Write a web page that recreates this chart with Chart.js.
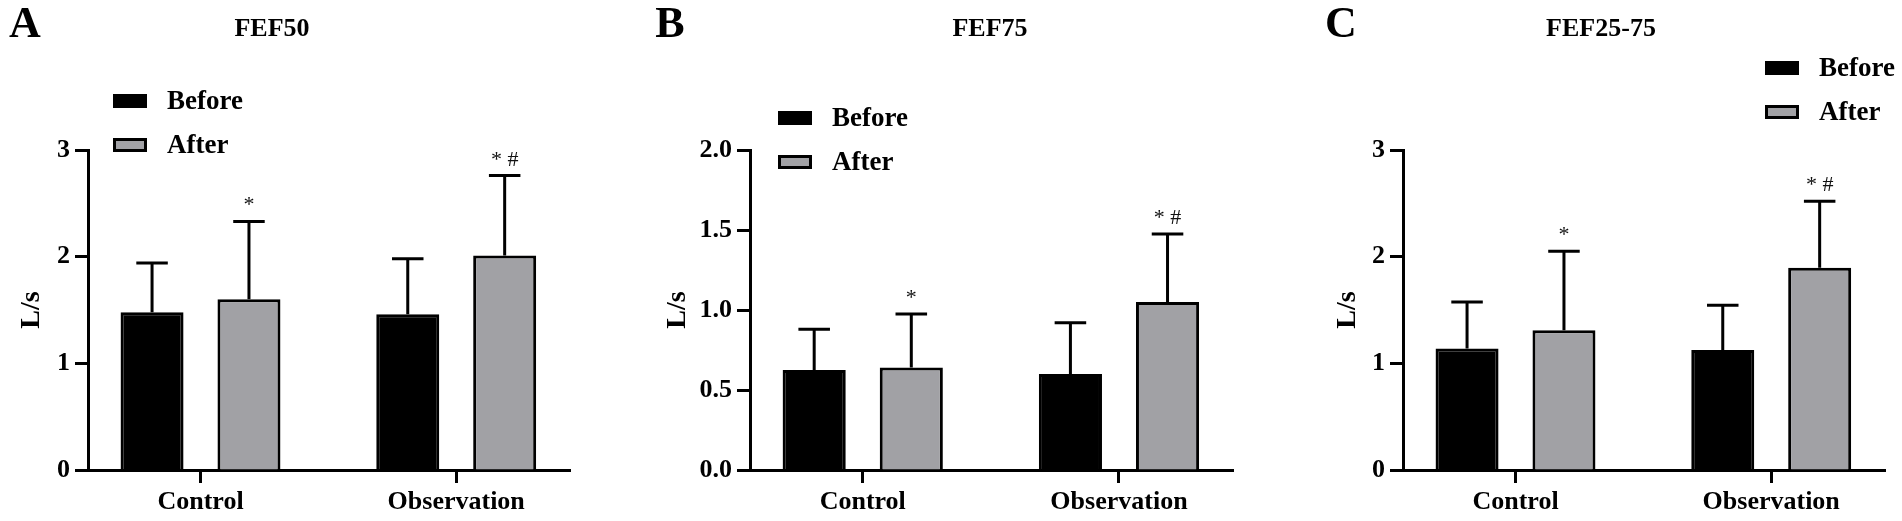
<!DOCTYPE html>
<html>
<head>
<meta charset="utf-8">
<title>FEF50 / FEF75 / FEF25-75</title>
<script src="https://cdn.jsdelivr.net/npm/chart.js@4.4.1/dist/chart.umd.min.js"></script>
<style>
  html, body { margin: 0; padding: 0; background: #fff; }
  #wrap { position: relative; width: 1902px; height: 521px; overflow: hidden; }
  canvas { position: absolute; top: 0; }
</style>
</head>
<body>
<div id="wrap">
  <canvas id="panelA" width="600" height="521" style="left:0px"></canvas>
  <canvas id="panelB" width="650" height="521" style="left:600px"></canvas>
  <canvas id="panelC" width="652" height="521" style="left:1250px"></canvas>
</div>
<script>
// groups on the x axis and the two series
const groups = ['Control', 'Observation'];
const seriesNames = ['Before', 'After'];
const afterMarks = ['*', '* #'];

// FEF50 (L/s), mean and SD
const fef50Before = [1.48, 1.46];
const fef50BeforeSd = [0.46, 0.52];
const fef50After = [1.60, 2.01];
const fef50AfterSd = [0.73, 0.75];
const fef50Ticks = [0, 1, 2, 3];

// FEF75 (L/s)
const fef75Before = [0.625, 0.60];
const fef75BeforeSd = [0.255, 0.32];
const fef75After = [0.64, 1.05];
const fef75AfterSd = [0.335, 0.425];
const fef75Ticks = [0, 0.5, 1.0, 1.5, 2.0];

// FEF25-75 (L/s)
const fef2575Before = [1.14, 1.125];
const fef2575BeforeSd = [0.435, 0.42];
const fef2575After = [1.31, 1.895];
const fef2575AfterSd = [0.74, 0.625];
const fef2575Ticks = [0, 1, 2, 3];

const SERIF = '"Liberation Serif", "Times New Roman", serif';
const GREY = '#a1a1a5';

// error bars (upper SD only) and significance marks
const errorBars = {
  id: 'errorBars',
  afterDatasetsDraw(chart) {
    const ctx = chart.ctx;
    const y = chart.scales.y;
    ctx.save();
    ctx.strokeStyle = '#000';
    ctx.lineWidth = 3;
    chart.data.datasets.forEach((ds, di) => {
      chart.getDatasetMeta(di).data.forEach((bar, i) => {
        const top = y.getPixelForValue(ds.data[i].y + ds.sd[i]);
        const half = bar.width / 4;
        ctx.beginPath();
        ctx.moveTo(bar.x, bar.y);
        ctx.lineTo(bar.x, top);
        ctx.moveTo(bar.x - half, top);
        ctx.lineTo(bar.x + half, top);
        ctx.stroke();
        if (ds.marks) {
          ctx.fillStyle = '#111';
          ctx.font = '22px ' + SERIF;
          ctx.textAlign = 'center';
          ctx.textBaseline = 'alphabetic';
          ctx.fillText(ds.marks[i], bar.x, top - 10);
        }
      });
    });
    ctx.restore();
  }
};

// panel letter, title and legend
const decor = {
  id: 'decor',
  afterDraw(chart, args, opts) {
    const ctx = chart.ctx;
    ctx.save();
    ctx.fillStyle = '#000';
    ctx.textBaseline = 'middle';
    ctx.textAlign = 'center';
    ctx.font = 'bold 44px ' + SERIF;
    ctx.fillText(opts.letter, opts.letterX, 26);
    ctx.font = 'bold 26px ' + SERIF;
    ctx.fillText(opts.title, opts.titleX, 29);

    ctx.textAlign = 'left';
    ctx.font = 'bold 27px ' + SERIF;
    chart.data.datasets.forEach((ds, i) => {
      const cy = opts.legendY + i * 44;
      ctx.fillStyle = ds.backgroundColor;
      ctx.fillRect(opts.legendX, cy - 7, 34, 14);
      ctx.strokeStyle = '#000';
      ctx.lineWidth = 3;
      ctx.strokeRect(opts.legendX + 1.5, cy - 5.5, 31, 11);
      ctx.fillStyle = '#000';
      ctx.fillText(ds.label, opts.legendX + 54, cy + 1);
    });
    ctx.restore();
  }
};

function points(values) {
  return values.map((v, i) => ({ x: i, y: v }));
}

function makePanel(id, p) {
  new Chart(document.getElementById(id), {
    type: 'bar',
    data: {
      datasets: [
        { label: seriesNames[0], data: points(p.before), sd: p.beforeSd,
          backgroundColor: '#000', borderColor: '#000', borderWidth: 3 },
        { label: seriesNames[1], data: points(p.after), sd: p.afterSd, marks: afterMarks,
          backgroundColor: GREY, borderColor: '#000', borderWidth: 3 }
      ]
    },
    options: {
      responsive: false,
      animation: false,
      categoryPercentage: 0.758,
      barPercentage: 0.65,
      layout: { padding: { top: 150, right: p.padRight, left: 0, bottom: 0 } },
      plugins: {
        legend: { display: false },
        tooltip: { enabled: false },
        decor: p.decor
      },
      scales: {
        x: {
          type: 'linear',
          min: -0.44,
          max: 1.445,
          bounds: 'data',
          offset: false,
          afterBuildTicks: (s) => { s.ticks = groups.map((g, i) => ({ value: i })); },
          afterFit: (s) => { s.height = 51; },
          grid: { display: true, drawOnChartArea: false, drawTicks: true, offset: false,
                  tickLength: 13, tickWidth: 3, tickColor: '#000' },
          border: { display: true, color: '#000', width: 3 },
          ticks: {
            color: '#000', padding: 4, maxRotation: 0, autoSkip: false,
            font: { family: SERIF, size: 26, weight: 'bold' },
            callback: (v) => groups[v]
          }
        },
        y: {
          min: 0,
          max: p.ticks[p.ticks.length - 1],
          afterBuildTicks: (s) => { s.ticks = p.ticks.map(v => ({ value: v })); },
          afterFit: (s) => { s.width = p.yWidth; },
          grid: { display: true, drawOnChartArea: false, drawTicks: true,
                  tickLength: 13, tickWidth: 3, tickColor: '#000' },
          border: { display: true, color: '#000', width: 3 },
          ticks: {
            color: '#000', padding: 5,
            font: { family: SERIF, size: 26, weight: 'bold' },
            callback: (v) => v.toFixed(p.decimals)
          },
          title: {
            display: true, text: 'L/s', color: '#000',
            padding: { top: p.yTitlePad, bottom: 0 },
            font: { family: SERIF, size: 28, weight: 'bold' }
          }
        }
      }
    },
    plugins: [errorBars, decor]
  });
}

makePanel('panelA', {
  before: fef50Before, beforeSd: fef50BeforeSd, after: fef50After, afterSd: fef50AfterSd,
  ticks: fef50Ticks, decimals: 0, yWidth: 88, padRight: 30, yTitlePad: 15,
  decor: { letter: 'A', letterX: 25, title: 'FEF50', titleX: 272, legendX: 113, legendY: 101 }
});

makePanel('panelB', {
  before: fef75Before, beforeSd: fef75BeforeSd, after: fef75After, afterSd: fef75AfterSd,
  ticks: fef75Ticks, decimals: 1, yWidth: 150, padRight: 17, yTitlePad: 61,
  decor: { letter: 'B', letterX: 70, title: 'FEF75', titleX: 390, legendX: 178, legendY: 118 }
});

makePanel('panelC', {
  before: fef2575Before, beforeSd: fef2575BeforeSd, after: fef2575After, afterSd: fef2575AfterSd,
  ticks: fef2575Ticks, decimals: 0, yWidth: 153, padRight: 17, yTitlePad: 81,
  decor: { letter: 'C', letterX: 91, title: 'FEF25-75', titleX: 351, legendX: 515, legendY: 68 }
});
</script>
</body>
</html>
